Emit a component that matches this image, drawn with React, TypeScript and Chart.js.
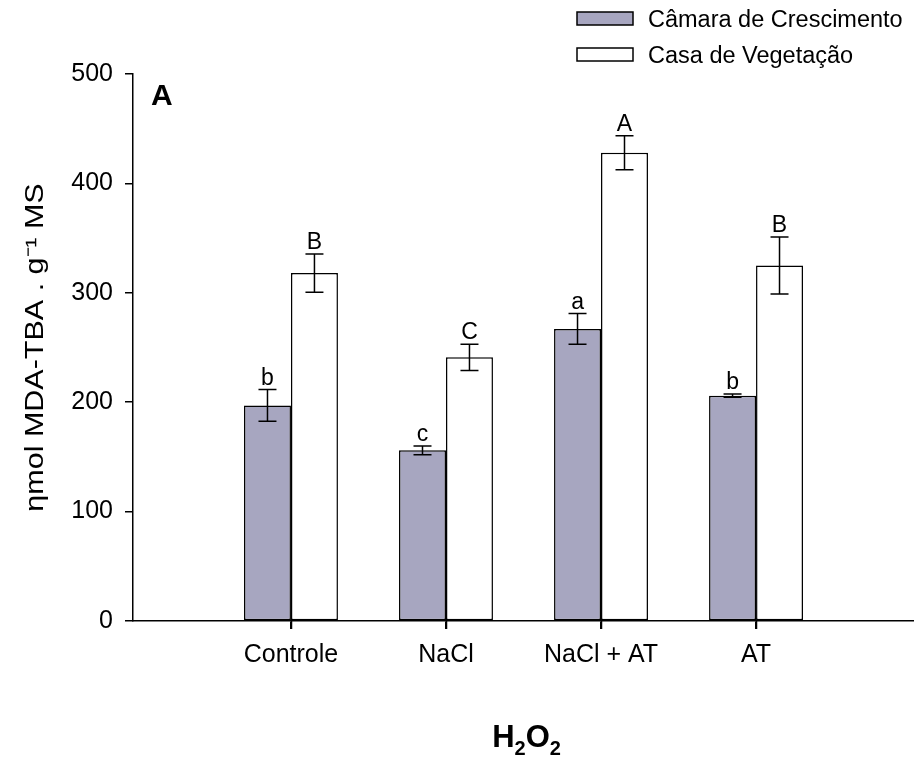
import React, { useEffect, useRef } from "react";
import { Chart, registerables } from "chart.js";

Chart.register(...registerables);

const categories = ["Controle", "NaCl", "NaCl + AT", "AT"];
const camaraValues = [197, 156, 267, 206];
const camaraErrors = [14.5, 4, 14, 1.5];
const casaValues = [318, 241, 428, 325];
const casaErrors = [17.5, 12, 15.5, 26];
const camaraLetters = ["b", "c", "a", "b"];
const casaLetters = ["B", "C", "A", "B"];
const yTickValues = [0, 100, 200, 300, 400, 500];
const seriesNames = ["Câmara de Crescimento", "Casa de Vegetação"];
const yTitle = "ηmol MDA-TBA . g⁻¹ MS";
const panelLabel = "A";

const FONT = "'Liberation Sans', Arial, Helvetica, sans-serif";
const GREY = "#a7a6c0";

const extrasPlugin = {
  id: "extras",
  afterDatasetsDraw(chart: any) {
    const ctx = chart.ctx as CanvasRenderingContext2D;
    const y = chart.scales.y;
    const xs = chart.scales.x;
    const ca = chart.chartArea;
    const errs = [camaraErrors, casaErrors];
    const vals = [camaraValues, casaValues];
    const letters = [camaraLetters, casaLetters];
    ctx.save();
    ctx.strokeStyle = "#000";
    ctx.fillStyle = "#000";
    ctx.lineWidth = 1.5;

    // x tick marks at category centres
    ctx.beginPath();
    categories.forEach((_, i) => {
      const px = Math.round(xs.getPixelForValue(i)) + 0.5;
      ctx.moveTo(px, ca.bottom);
      ctx.lineTo(px, ca.bottom + 8);
    });
    ctx.stroke();

    ctx.font = `23px ${FONT}`;
    ctx.textAlign = "center";
    ctx.textBaseline = "alphabetic";
    for (let d = 0; d < 2; d++) {
      const meta = chart.getDatasetMeta(d);
      meta.data.forEach((el: any, i: number) => {
        const x = el.x;
        const top = y.getPixelForValue(vals[d][i] + errs[d][i]);
        const bot = y.getPixelForValue(vals[d][i] - errs[d][i]);
        ctx.beginPath();
        ctx.moveTo(x, top);
        ctx.lineTo(x, bot);
        ctx.moveTo(x - 9, top);
        ctx.lineTo(x + 9, top);
        ctx.moveTo(x - 9, bot);
        ctx.lineTo(x + 9, bot);
        ctx.stroke();
        ctx.fillText(letters[d][i], x, top - 5);
      });
    }
    // panel label
    ctx.font = `bold 30px ${FONT}`;
    ctx.textAlign = "left";
    ctx.fillText(panelLabel, 151, 105);

    // legend
    ctx.font = `23.5px ${FONT}`;
    const sw = [GREY, "#ffffff"];
    const rows = [12, 48];
    for (let k = 0; k < 2; k++) {
      ctx.fillStyle = sw[k];
      ctx.fillRect(577, rows[k], 56, 13);
      ctx.strokeRect(577, rows[k], 56, 13);
      ctx.fillStyle = "#000";
      ctx.fillText(seriesNames[k], 648, rows[k] + 15);
    }

    // y title (slightly widened glyphs like the original)
    ctx.save();
    ctx.translate(43, (ca.top + ca.bottom) / 2);
    ctx.rotate(-Math.PI / 2);
    ctx.scale(1.22, 1);
    ctx.font = `25px ${FONT}`;
    ctx.textAlign = "center";
    ctx.textBaseline = "alphabetic";
    ctx.fillText(yTitle, 0, 0);
    ctx.restore();

    // x title H2O2
    const parts: [string, boolean][] = [["H", false], ["2", true], ["O", false], ["2", true]];
    let total = 0;
    for (const [t, sub] of parts) {
      ctx.font = sub ? `bold 20px ${FONT}` : `bold 31px ${FONT}`;
      total += ctx.measureText(t).width;
    }
    let x = (ca.left + ca.right) / 2 + 3 - total / 2;
    for (const [t, sub] of parts) {
      ctx.font = sub ? `bold 20px ${FONT}` : `bold 31px ${FONT}`;
      ctx.fillText(t, x, sub ? 755 : 747);
      x += ctx.measureText(t).width;
    }
    ctx.restore();
  },
};

export default function App() {
  const ref = useRef<HTMLCanvasElement>(null);
  useEffect(() => {
    document.body.style.margin = "0";
    const canvas = ref.current!;
    const chart = new Chart(canvas, {
      type: "bar",
      data: {
        datasets: [
          {
            label: seriesNames[0],
            data: camaraValues.map((v, i) => ({ x: i, y: v })),
            backgroundColor: GREY,
            borderColor: "#000",
            borderWidth: 1.5,
            borderSkipped: false,
            categoryPercentage: 0.606,
            barPercentage: 1,
          },
          {
            label: seriesNames[1],
            data: casaValues.map((v, i) => ({ x: i, y: v })),
            backgroundColor: "#ffffff",
            borderColor: "#000",
            borderWidth: 1.5,
            borderSkipped: false,
            categoryPercentage: 0.606,
            barPercentage: 1,
          },
        ],
      },
      options: {
        animation: false,
        responsive: false,
        devicePixelRatio: 1,
        layout: { padding: { top: 74, right: 0, left: 0, bottom: 0 } },
        plugins: {
          legend: { display: false },
          tooltip: { enabled: false },
        },
        scales: {
          x: {
            type: "linear",
            min: -1.019,
            max: 4.019,
            offset: false,
            afterBuildTicks: (s: any) => {
              s.ticks = categories.map((_, i) => ({ value: i }));
            },
            afterFit: (s: any) => {
              s.height = 141;
            },
            grid: {
              offset: false,
              drawOnChartArea: false,
              drawTicks: true,
              tickLength: 8,
              color: "#000",
              lineWidth: 1.5,
            },
            border: { display: true, color: "#000", width: 1.5 },
            ticks: {
              autoSkip: false,
              maxRotation: 0,
              padding: 11,
              color: "#000",
              font: { family: FONT, size: 25 },
              callback: (v: any) => categories[v] ?? "",
            },
          },
          y: {
            min: 0,
            max: 500,
            afterBuildTicks: (s: any) => {
              s.ticks = yTickValues.map((v) => ({ value: v }));
            },
            afterFit: (s: any) => {
              s.width = 133;
            },
            grid: {
              drawOnChartArea: false,
              drawTicks: true,
              tickLength: 8,
              color: "#000",
              lineWidth: 1.5,
            },
            border: { display: true, color: "#000", width: 1.5 },
            ticks: {
              padding: 12,
              color: "#000",
              font: { family: FONT, size: 25 },
            },
          },
        },
      },
      plugins: [extrasPlugin],
    });
    return () => chart.destroy();
  }, []);
  return (
    <div style={{ width: 914, height: 762, background: "#fff" }}>
      <canvas ref={ref} width={914} height={762} style={{ display: "block" }} />
    </div>
  );
}
